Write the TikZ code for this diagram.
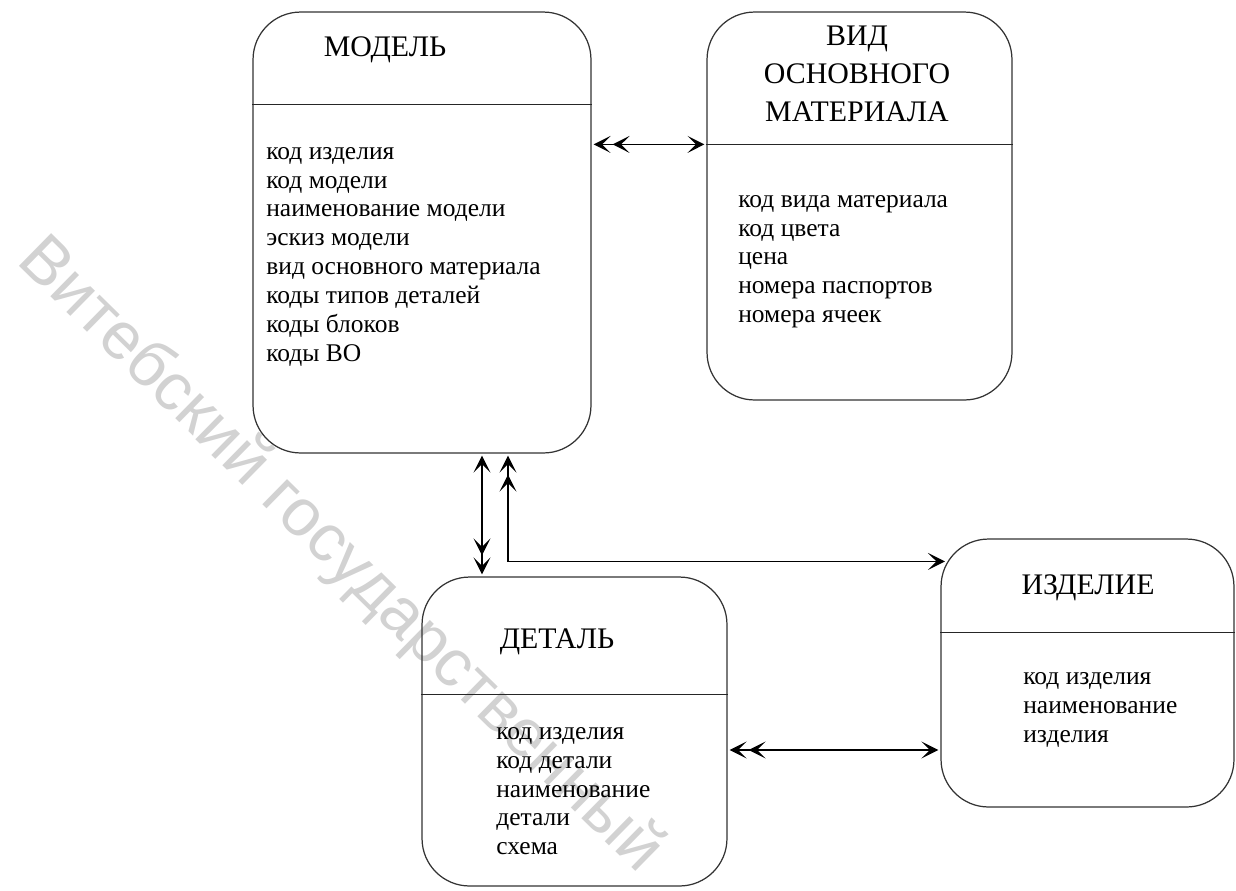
\documentclass[tikz,border=0pt]{standalone}
\usepackage{fontspec}
\setmainfont{Liberation Serif}
\newfontfamily\wmfont{Liberation Sans}
\usepackage{tikz}
\usetikzlibrary{positioning,arrows.meta}

\begin{document}
\begin{tikzpicture}[
  x=0.02cm, y=-0.02cm,
  entity/.style={draw=black!80, line width=0.7pt, rectangle, rounded corners=0.95cm, inner sep=0pt},
  sepline/.style={draw=black!85, line width=0.7pt},
  title/.style={font=\fontsize{17}{21.6}\selectfont, align=center},
  attrs/.style={font=\fontsize{14.5}{16.4}\selectfont, align=left, anchor=north west, inner sep=0pt},
  rel/.style={draw=black, line width=0.95pt},
  watermark/.style={font=\wmfont\fontsize{38}{38}\selectfont, text=gray!35, rotate=-44.5},
  >={Stealth[length=0.34cm, width=0.34cm, inset=0.17cm, sep=0.04cm]}
]
\useasboundingbox (0,0) rectangle (1236,890);

% Watermark
\node[watermark] (wm) at (340,556) {Витебский государственный};

% Entities
\node[entity, minimum width=6.76cm, minimum height=8.82cm] (model) at (422,232.5) {};
\node[entity, minimum width=6.10cm, minimum height=7.76cm] (vid) at (859.5,206) {};
\node[entity, minimum width=6.10cm, minimum height=6.18cm] (detal) at (574.5,731.5) {};
\node[entity, minimum width=5.86cm, minimum height=5.36cm] (izd) at (1087.5,673) {};

% Header lines
\draw[sepline] ([yshift=-1.86cm]model.north west) -- ([yshift=-1.86cm]model.north east);
\coordinate (vid-hl) at ([yshift=-2.66cm]vid.north west);
\draw[sepline] (vid-hl) -- (vid-hl -| vid.east);
\draw[sepline] ([yshift=-2.36cm]detal.north west) -- ([yshift=-2.36cm]detal.north east);
\draw[sepline] ([yshift=-1.88cm]izd.north west) -- ([yshift=-1.88cm]izd.north east);

% Titles
\node[title] (model-t) at (385,50) {МОДЕЛЬ};
\node[title] (vid-t) at (857,74) {ВИД\\ОСНОВНОГО\\МАТЕРИАЛА};
\node[title] (detal-t) at (557,642) {ДЕТАЛЬ};
\node[title] (izd-t) at (1088,588) {ИЗДЕЛИЕ};

% Attributes
\node[attrs] (model-a) at (266,147) {код изделия\\код модели\\наименование модели\\эскиз модели\\вид основного материала\\коды типов деталей\\коды блоков\\коды ВО};
\node[attrs] (vid-a) at (738,195) {код вида материала\\код цвета\\цена\\номера паспортов\\номера ячеек};
\node[attrs] (detal-a) at (496,727) {код изделия\\код детали\\наименование\\детали\\схема};
\node[attrs] (izd-a) at (1023,672) {код изделия\\наименование\\изделия};

% Relations
\draw[rel, <<->] (vid-hl -| model.east) -- (vid-hl);
\coordinate (d-r) at ([yshift=-0.37cm]detal.east);
\draw[rel, <<->] (d-r) -- (d-r -| izd.west);
\coordinate (m1) at ([xshift=1.2cm]model.south);
\draw[rel, <->>] (m1) -- (m1 |- detal.north);
\coordinate (m2) at ([xshift=1.72cm]model.south);
\coordinate (izd-c) at ([shift={(0.13cm,-0.46cm)}]izd.north west);
\draw[rel, <<->] (m2) |- (izd-c);

\end{tikzpicture}
\end{document}
